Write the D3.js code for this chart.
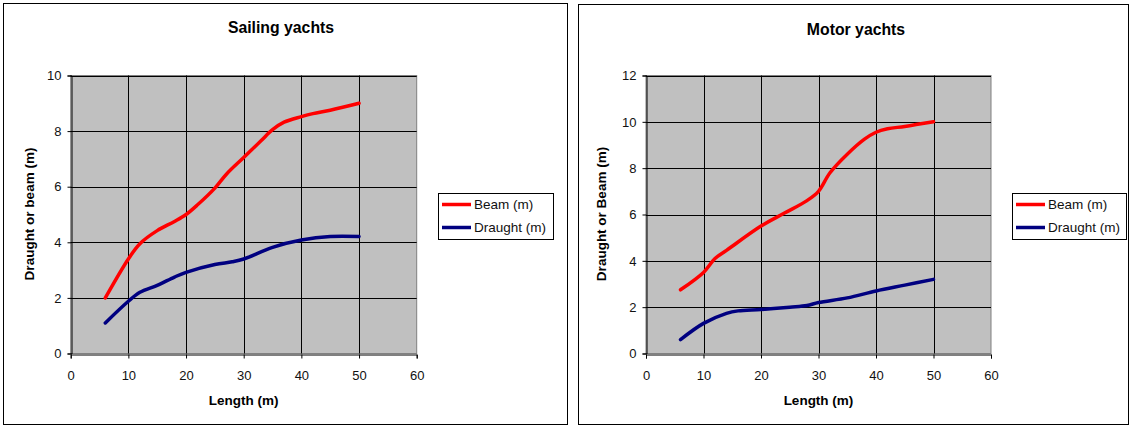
<!DOCTYPE html>
<html>
<head>
<meta charset="utf-8">
<script src="https://cdn.jsdelivr.net/npm/d3@7"></script>
<style>
  body { margin: 0; background: #fff; }
  svg { font-family: "Liberation Sans", Arial, sans-serif; }
</style>
</head>
<body>
<svg id="chart" width="1131" height="426"></svg>
<script>
// Sailing yachts: length (m) -> beam / draught (m)
const sailLength  = [6, 10, 12, 15, 18, 20, 22, 25, 27, 30, 33, 35, 37, 40, 42, 45, 50];
const sailBeam    = [2, 3.4, 3.95, 4.42, 4.75, 5.0, 5.35, 5.95, 6.45, 7.05, 7.65, 8.05, 8.32, 8.52, 8.63, 8.75, 9.0];
const sailLengthD = [6, 10, 12, 15, 18, 20, 25, 28, 30, 35, 40, 45, 50];
const sailDraught = [1.1, 1.88, 2.2, 2.45, 2.75, 2.92, 3.2, 3.3, 3.4, 3.82, 4.08, 4.21, 4.21];

// Motor yachts
const motorLength  = [6, 10, 12, 14, 20, 24, 28, 30, 32, 35, 38, 40, 42, 45, 50];
const motorBeam    = [2.75, 3.5, 4.1, 4.45, 5.5, 6.05, 6.6, 7.0, 7.8, 8.6, 9.25, 9.55, 9.7, 9.8, 10.0];
const motorLengthD = [6, 10, 14, 16, 20, 25, 28, 30, 35, 40, 45, 50];
const motorDraught = [0.6, 1.3, 1.73, 1.84, 1.9, 2.0, 2.07, 2.2, 2.4, 2.7, 2.95, 3.2];

const xTicks = [0, 10, 20, 30, 40, 50, 60];
const sailYTicks = [0, 2, 4, 6, 8, 10];
const motorYTicks = [0, 2, 4, 6, 8, 10, 12];

const seriesNames = ["Beam (m)", "Draught (m)"];
const seriesColors = ["#ff0000", "#000080"];

const svg = d3.select("#chart");

function zip(xs, ys) { return xs.map((x, i) => ({ x: x, y: ys[i] })); }

function drawChart(opt) {
  const g = svg.append("g").attr("transform", `translate(${opt.left},0)`);

  // panel frame
  g.append("rect")
    .attr("x", 0.5).attr("y", opt.frameTop + 0.5)
    .attr("width", opt.frameW).attr("height", 424 - opt.frameTop)
    .attr("fill", "#fff").attr("stroke", "#000").attr("stroke-width", 1);

  const x = d3.scaleLinear().domain([0, 60]).range([opt.plotX0, opt.plotX1]);
  const y = d3.scaleLinear().domain([0, opt.yMax]).range([353.5, 75.5]);

  // plot background
  g.append("rect")
    .attr("x", x(0)).attr("y", y(opt.yMax))
    .attr("width", x(60) - x(0)).attr("height", y(0) - y(opt.yMax))
    .attr("fill", "#c0c0c0").attr("stroke", "#808080");

  // gridlines
  g.append("g").selectAll("line").data(opt.yTicks.filter(d => d > 0))
    .enter().append("line")
    .attr("x1", x(0)).attr("x2", x(60))
    .attr("y1", d => Math.round(y(d)) + 0.5).attr("y2", d => Math.round(y(d)) + 0.5)
    .attr("stroke", "#000");
  g.append("g").selectAll("line").data(xTicks.filter(d => d > 0 && d < 60))
    .enter().append("line")
    .attr("x1", d => Math.round(x(d)) + 0.5).attr("x2", d => Math.round(x(d)) + 0.5)
    .attr("y1", y(opt.yMax)).attr("y2", y(0))
    .attr("stroke", "#000");

  // axes
  const xAxis = g.append("g")
    .attr("transform", `translate(0,${Math.round(y(0)) + 0.5})`)
    .call(d3.axisBottom(x).tickValues(xTicks).tickSize(4).tickPadding(12));
  const yAxis = g.append("g")
    .attr("transform", `translate(${Math.round(x(0)) + 0.5},0)`)
    .call(d3.axisLeft(y).tickValues(opt.yTicks).tickSize(4).tickPadding(6));
  [xAxis, yAxis].forEach(a => {
    a.select(".domain").attr("stroke", "#000");
    a.selectAll(".tick line").attr("stroke", "#000");
    a.selectAll("text").attr("font-size", 13).attr("fill", "#111")
      .attr("font-family", "Liberation Sans, Arial, sans-serif");
  });

  // lines
  const line = d3.line()
    .x(d => x(d.x)).y(d => y(d.y))
    .curve(d3.curveCatmullRom.alpha(0.5));
  opt.series.forEach((s, i) => {
    g.append("path").datum(s)
      .attr("fill", "none")
      .attr("stroke", seriesColors[i])
      .attr("stroke-width", 3.5)
      .attr("stroke-linecap", "round")
      .attr("stroke-linejoin", "round")
      .attr("d", line);
  });

  // titles
  g.append("text")
    .attr("x", opt.titleX).attr("y", opt.titleY)
    .attr("text-anchor", "middle").attr("font-weight", "bold").attr("font-size", 15.8)
    .text(opt.title);
  g.append("text")
    .attr("x", (x(0) + x(60)) / 2).attr("y", 405)
    .attr("text-anchor", "middle").attr("font-weight", "bold").attr("font-size", 13.5)
    .text("Length (m)");
  g.append("text")
    .attr("transform", `translate(${opt.yTitleX},${214}) rotate(-90)`)
    .attr("text-anchor", "middle").attr("font-weight", "bold").attr("font-size", 13.5)
    .text(opt.yTitle);

  // legend
  const lg = g.append("g").attr("transform", `translate(${opt.legendX},193.5)`);
  lg.append("rect")
    .attr("x", 0.5).attr("y", 0).attr("width", opt.legendW).attr("height", 46)
    .attr("fill", "#fff").attr("stroke", "#000");
  seriesNames.forEach((n, i) => {
    const ly = 11 + i * 23;
    lg.append("line")
      .attr("x1", 4).attr("x2", 33).attr("y1", ly).attr("y2", ly)
      .attr("stroke", seriesColors[i]).attr("stroke-width", 3.5);
    lg.append("text")
      .attr("x", 36).attr("y", ly + 4.5)
      .attr("font-size", 13.5).attr("fill", "#111")
      .text(n);
  });
}

drawChart({
  left: 3, frameTop: 3, frameW: 564,
  plotX0: 67.7, plotX1: 413.7,
  yMax: 10, yTicks: sailYTicks,
  title: "Sailing yachts", titleX: 278, titleY: 33,
  yTitle: "Draught or beam (m)", yTitleX: 31,
  legendX: 435, legendW: 115,
  series: [zip(sailLength, sailBeam), zip(sailLengthD, sailDraught)]
});

drawChart({
  left: 578, frameTop: 4, frameW: 550,
  plotX0: 68, plotX1: 413,
  yMax: 12, yTicks: motorYTicks,
  title: "Motor yachts", titleX: 278, titleY: 35,
  yTitle: "Draught or Beam (m)", yTitleX: 28,
  legendX: 434, legendW: 114,
  series: [zip(motorLength, motorBeam), zip(motorLengthD, motorDraught)]
});
</script>
</body>
</html>
